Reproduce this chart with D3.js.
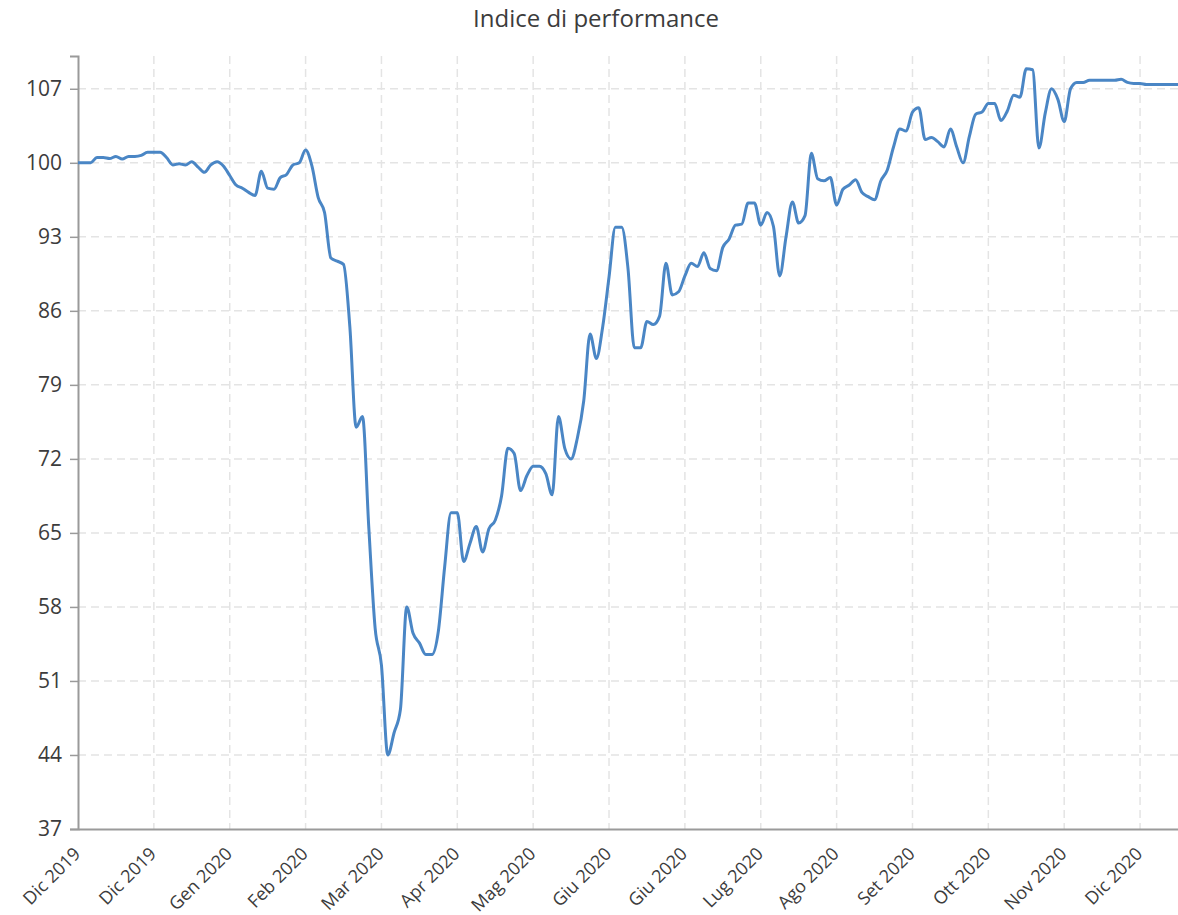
<!DOCTYPE html>
<html>
<head>
<meta charset="utf-8">
<script src="https://cdn.jsdelivr.net/npm/d3@7.9.0/dist/d3.min.js"></script>
<style>
  html, body { margin: 0; padding: 0; background: #fff; }
  svg { display: block; font-family: "Open Sans", sans-serif; }
  .grid line { stroke: #e4e4e4; stroke-width: 1.5; stroke-dasharray: 8,5; }
  .axis text { fill: #3c3c3c; font-size: 21px; font-family: "Open Sans", sans-serif; }
  .axis.x text { font-size: 18px; }
</style>
</head>
<body>
<svg id="chart" width="1178" height="915"></svg>
<script>
// Chart title
const title = 'Indice di performance';

// X axis labels, one every 12 points
const monthLabels = ['Dic 2019', 'Dic 2019', 'Gen 2020', 'Feb 2020', 'Mar 2020', 'Apr 2020', 'Mag 2020',
  'Giu 2020', 'Giu 2020', 'Lug 2020', 'Ago 2020', 'Set 2020', 'Ott 2020', 'Nov 2020', 'Dic 2020'];
const labelStep = 12;

// Y axis tick values
const yTicks = [37, 44, 51, 58, 65, 72, 79, 86, 93, 100, 107];

// Performance index values
const perf = [
  100.0, 100.0, 100.0, 100.5, 100.5, 100.4, 100.6, 100.35, 100.6, 100.6, 100.7, 101.0,
  101.0, 101.0, 100.5, 99.8, 99.9, 99.8, 100.1, 99.6, 99.1, 99.8, 100.1, 99.7,
  98.8, 97.9, 97.6, 97.2, 96.9, 99.2, 97.6, 97.5, 98.6, 98.9, 99.8, 100.0,
  101.2, 99.7, 96.7, 95.3, 91.0, 90.7, 90.4, 84.5, 75.0, 76.0, 65.5, 56.0,
  52.5, 44.0, 46.1, 48.3, 58.0, 55.5, 54.6, 53.5, 53.5, 55.7, 61.8, 66.9,
  66.9, 62.3, 64.0, 65.6, 63.2, 65.4, 66.2, 68.5, 73.0, 72.5, 69.0, 70.4,
  71.3, 71.3, 70.6, 68.6, 76.0, 73.0, 72.0, 74.0, 77.5, 83.8, 81.5, 84.5,
  89.2, 93.9, 93.9, 90.0, 82.5, 82.5, 85.0, 84.7, 85.5, 90.5, 87.5, 87.8,
  89.3, 90.5, 90.2, 91.5, 90.0, 89.8, 92.0, 92.8, 94.1, 94.2, 96.2, 96.2,
  94.1, 95.3, 94.0, 89.3, 93.0, 96.3, 94.3, 95.0, 100.9, 98.5, 98.3, 98.6,
  96.0, 97.5, 97.9, 98.4, 97.2, 96.8, 96.5, 98.3, 99.3, 101.5, 103.2, 103.0,
  104.8, 105.2, 102.2, 102.4, 102.0, 101.5, 103.2, 101.5, 100.0, 102.5, 104.6, 104.8,
  105.6, 105.6, 104.0, 104.9, 106.4, 106.2, 108.9, 108.8, 101.4, 104.7, 107.0, 106.0,
  103.9, 107.0, 107.6, 107.6, 107.8, 107.8, 107.8, 107.8, 107.8, 107.9, 107.6, 107.5,
  107.5, 107.4, 107.4, 107.4, 107.4, 107.4, 107.4
];

const width = 1178, height = 915;
const margin = { top: 56, right: 0, bottom: 86, left: 78 };

const svg = d3.select('#chart');

const x = d3.scaleLinear()
  .domain([0, perf.length - 1])
  .range([margin.left, width - margin.right]);

const y = d3.scaleLinear()
  .domain([37, 110.1])
  .range([height - margin.bottom, margin.top]);

const tickIdx = monthLabels.map((d, i) => i * labelStep);

// title
svg.append('text')
  .attr('x', 596)
  .attr('y', 27)
  .attr('text-anchor', 'middle')
  .attr('fill', '#3c3c3c')
  .style('font-size', '24px')
  .text(title);

// grid
const grid = svg.append('g').attr('class', 'grid');
grid.selectAll('.h')
  .data(yTicks.slice(1))
  .join('line')
  .attr('x1', margin.left).attr('x2', width)
  .attr('y1', d => y(d)).attr('y2', d => y(d));
grid.selectAll('.v')
  .data(tickIdx.slice(1))
  .join('line')
  .attr('x1', d => x(d)).attr('x2', d => x(d))
  .attr('y1', margin.top).attr('y2', height - margin.bottom);

// y axis
const yAxis = svg.append('g')
  .attr('class', 'axis y')
  .attr('transform', `translate(${margin.left},0)`)
  .call(d3.axisLeft(y).tickValues(yTicks).tickSize(8).tickPadding(8));
yAxis.select('.domain').attr('stroke', '#9a9a9a').attr('stroke-width', 2);
yAxis.selectAll('.tick line').attr('stroke', '#9a9a9a').attr('stroke-width', 1.5);

// x axis
const xAxis = svg.append('g')
  .attr('class', 'axis x')
  .attr('transform', `translate(0,${height - margin.bottom})`)
  .call(d3.axisBottom(x).tickValues(tickIdx).tickFormat((d, i) => monthLabels[i]).tickSize(0).tickSizeOuter(0));
xAxis.select('.domain').attr('stroke', '#9a9a9a').attr('stroke-width', 2);
xAxis.selectAll('.tick text')
  .attr('text-anchor', 'end')
  .attr('dy', null)
  .attr('y', null)
  .attr('transform', 'translate(3,26) rotate(-45)');

// line
const line = d3.line()
  .x((d, i) => x(i))
  .y(d => y(d))
  .curve(d3.curveMonotoneX);

svg.append('path')
  .datum(perf)
  .attr('fill', 'none')
  .attr('stroke', '#4a86c5')
  .attr('stroke-width', 3)
  .attr('stroke-linejoin', 'round')
  .attr('d', line);
</script>
</body>
</html>
